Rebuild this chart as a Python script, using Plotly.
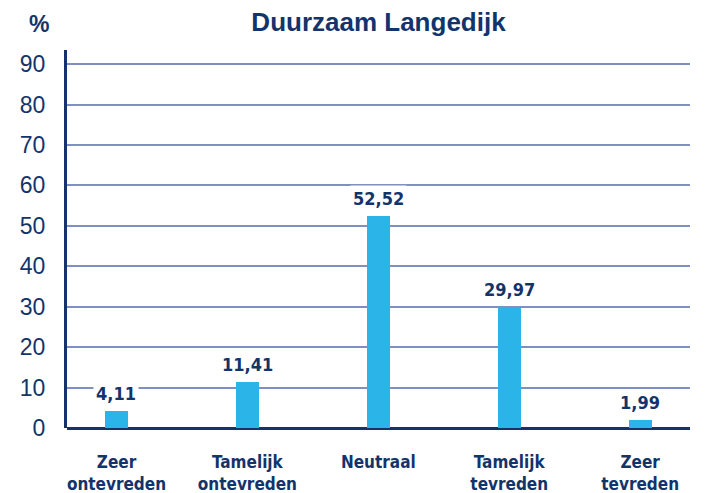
import plotly.graph_objects as go

categories = ["Zeer<br>ontevreden", "Tamelijk<br>ontevreden", "Neutraal", "Tamelijk<br>tevreden", "Zeer<br>tevreden"]
values = [4.11, 11.41, 52.52, 29.97, 1.99]
value_labels = ["4,11", "11,41", "52,52", "29,97", "1,99"]
y_ticks = [0, 10, 20, 30, 40, 50, 60, 70, 80, 90]

NAVY = "#13346B"
BAR = "#2AB4E8"
GRID = "#7F8FC0"
COND = "Liberation Sans Narrow, DejaVu Sans Condensed, Arial Narrow, sans-serif"
REG = "Liberation Sans, Arial, Helvetica, sans-serif"

xpos = list(range(len(categories)))

fig = go.Figure()
fig.add_trace(go.Bar(x=xpos, y=values, width=0.176, marker=dict(color=BAR, line=dict(width=0)),
                     hoverinfo="skip"))

for xi, v, t in zip(xpos, values, value_labels):
    fig.add_annotation(x=xi, y=v, text="<b>%s</b>" % t, showarrow=False, yanchor="bottom",
                       yshift=4, bgcolor="white", borderpad=2,
                       font=dict(family=COND, size=18, color=NAVY))

fig.add_annotation(xref="paper", yref="paper", x=-0.045, y=1.069, xanchor="center", yanchor="middle",
                   text="<b>%</b>", showarrow=False,
                   font=dict(family=REG, size=23, color=NAVY))

fig.update_layout(
    width=713, height=493,
    margin=dict(l=67, r=23, t=50, b=65, autoexpand=False),
    paper_bgcolor="white", plot_bgcolor="white",
    showlegend=False,
    bargap=0,
    title=dict(text="<b>Duurzaam Langedijk</b>", x=0.5, xref="paper", xanchor="center",
               y=1 - 22 / 493, yref="container", yanchor="middle",
               font=dict(family=REG, size=26, color=NAVY)),
)
fig.update_xaxes(range=[-0.378, 4.381], tickvals=xpos, ticktext=["<b>%s</b>" % c for c in categories],
                 showgrid=False, zeroline=False, showline=False, ticks="",
                 ticklabelstandoff=22, automargin=False,
                 tickfont=dict(family=COND, size=17, color=NAVY), fixedrange=True)
fig.update_yaxes(range=[0, 93.5], tickvals=y_ticks, showgrid=True, gridcolor=GRID, gridwidth=1.5,
                 zeroline=True, zerolinecolor=NAVY, zerolinewidth=3,
                 showline=True, linecolor=NAVY, linewidth=3, ticks="",
                 ticklabelstandoff=14, automargin=False,
                 tickfont=dict(family=REG, size=23, color=NAVY),
                 fixedrange=True)

fig.write_html("out.html", config={"displayModeBar": False},
               post_script="document.body.style.margin='0';document.body.style.overflow='hidden';")
